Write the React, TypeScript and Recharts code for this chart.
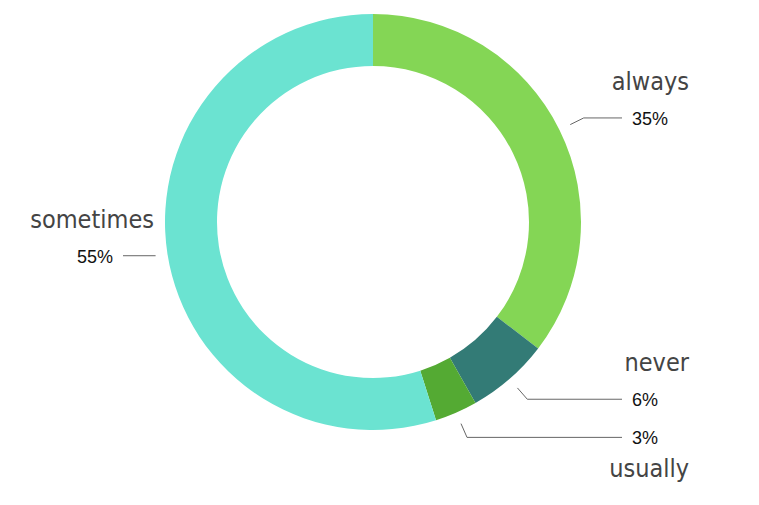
import { PieChart, Pie, Cell } from 'recharts'

const answers = ['always', 'never', 'usually', 'sometimes']
const shares = [35.4, 6.4, 3.3, 54.9]
const colors = ['#84d655', '#337b76', '#54aa33', '#6be3d1']

const chartData = answers.map((name, i) => ({ name, value: shares[i] }))

const RADIAN = Math.PI / 180

function SliceLabel(props: any) {
  const { cx, cy, midAngle, outerRadius, percent, name } = props
  const cos = Math.cos(-midAngle * RADIAN)
  const sin = Math.sin(-midAngle * RADIAN)
  const right = cos >= 0
  const sx = cx + (outerRadius + 12) * cos
  const sy = cy + (outerRadius + 12) * sin
  // near-horizontal slices get a straight line, the rest bend once
  const flat = Math.abs(sin) < 0.25
  const mx = flat ? sx : cx + (outerRadius + 27) * cos
  const my = flat ? sy : cy + (outerRadius + 27) * sin
  const ex = right ? cx + 249 : cx - 250
  // usually sits under its line so it doesn't run into never
  const nameBelow = name === 'usually'
  const nameX = right ? cx + 316 : cx - 219

  return (
    <g>
      <polyline
        points={`${sx},${sy} ${mx},${my} ${ex},${my}`}
        fill="none"
        stroke="#666"
        strokeWidth={1}
      />
      <text
        x={right ? ex + 10 : ex - 10}
        y={my + 1}
        textAnchor={right ? 'start' : 'end'}
        dominantBaseline="central"
        fill="#111"
        fontSize={18}
        fontFamily="'Liberation Sans', Arial, sans-serif"
      >
        {`${Math.round(percent * 100)}%`}
      </text>
      <text
        x={nameX}
        y={nameBelow ? my + 40 : my - 28}
        textAnchor="end"
        fill="#444"
        fontSize={25}
        fontFamily="'DejaVu Sans Condensed', 'DejaVu Sans', sans-serif"
      >
        {name}
      </text>
    </g>
  )
}

export default function App() {
  return (
    <div style={{ position: 'absolute', left: 0, top: 0, background: '#fff' }}>
      <PieChart width={759} height={505} margin={{ top: 0, right: 0, bottom: 0, left: 0 }}>
        <Pie
          data={chartData}
          dataKey="value"
          nameKey="name"
          cx={373}
          cy={222}
          innerRadius={156}
          outerRadius={208}
          startAngle={90}
          endAngle={-270}
          stroke="none"
          label={SliceLabel}
          labelLine={false}
          isAnimationActive={false}
        >
          {chartData.map((entry, i) => (
            <Cell key={entry.name} fill={colors[i]} />
          ))}
        </Pie>
      </PieChart>
    </div>
  )
}
